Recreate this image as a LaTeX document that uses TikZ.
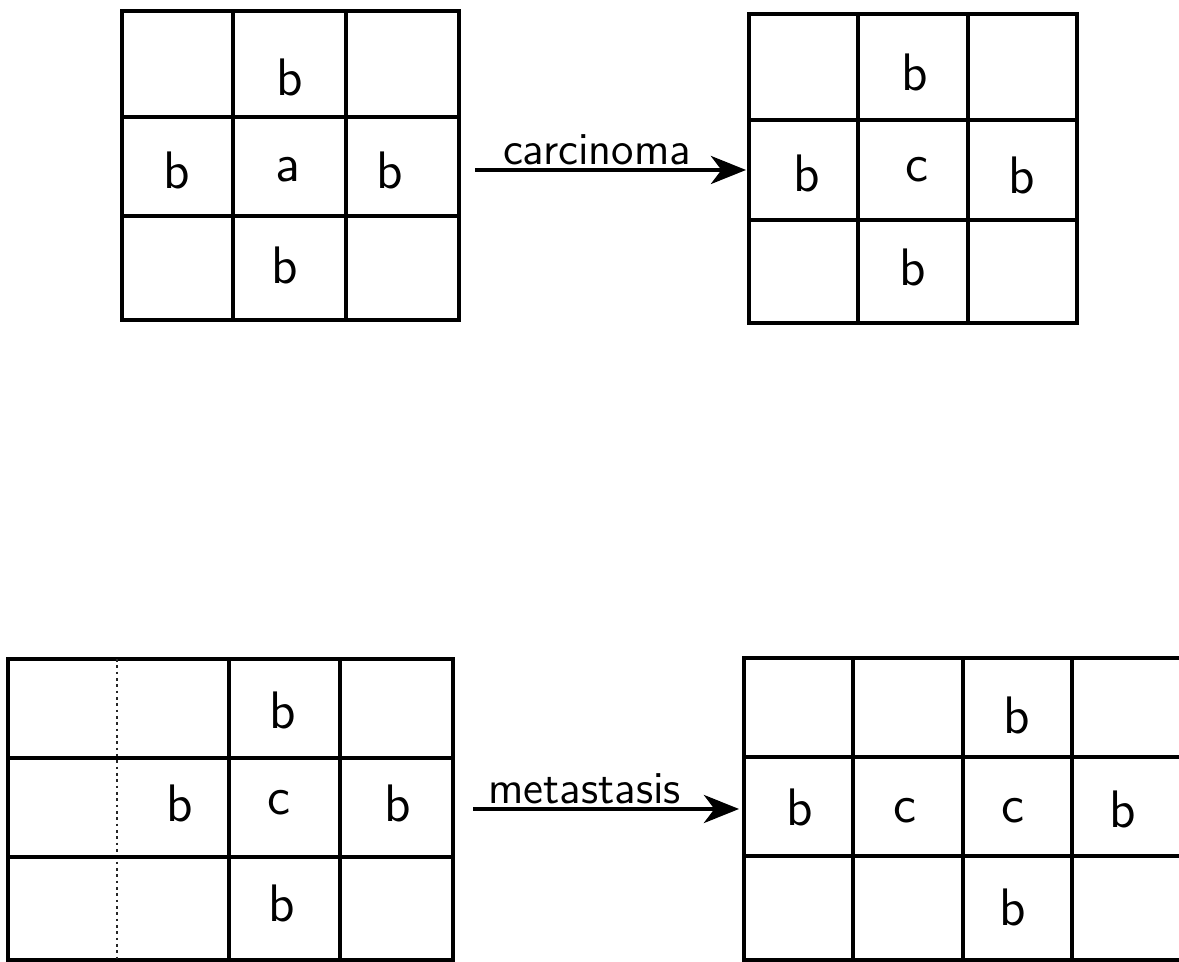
\documentclass[tikz,border=0pt]{standalone}
\usepackage{tikz}
\usetikzlibrary{arrows.meta}
\tikzset{
  grid line/.style={
    line width=0.9pt,
    color=black
  },
  faint line/.style={
    line width=0.8pt,
    densely dotted,
    color=black!85
  },
  cell label/.style={
    font=\sffamily\fontsize{15}{15}\selectfont,
    inner sep=0pt
  },
  flow arrow/.style={
    -{Stealth[length=10pt, width=8pt, inset=3pt]},
    line width=1pt
  },
  flow label/.style={
    font=\sffamily\fontsize{13}{13}\selectfont,
    inner sep=1pt
  }
}

\begin{document}
\begin{tikzpicture}[x=0.01cm, y=-0.01cm]
    \useasboundingbox (0,0) rectangle (1179,962);

    % top left: normal cell a
    \draw[grid line] (122,11) rectangle (459,320);
    \draw[grid line] (233,11) -- (233,320) (346,11) -- (346,320)
                     (122,117) -- (459,117) (122,216) -- (459,216);
    \node[cell label] (tlTop) at (290,77) {b};
    \node[cell label] (tlLeft) at (177,170) {b};
    \node[cell label] (tlMid) at (288,170) {a};
    \node[cell label] (tlRight) at (390,170) {b};
    \node[cell label] (tlBottom) at (285,265) {b};

    % top right: a turned into c
    \draw[grid line] (749,14) rectangle (1077,323);
    \draw[grid line] (858,14) -- (858,323) (968,14) -- (968,323)
                     (749,120) -- (1077,120) (749,220) -- (1077,220);
    \node[cell label] (trTop) at (915,72) {b};
    \node[cell label] (trLeft) at (807,173) {b};
    \node[cell label] (trMid) at (917,170) {c};
    \node[cell label] (trRight) at (1022,175) {b};
    \node[cell label] (trBottom) at (913,267) {b};
    \coordinate (TopRightW) at (746,170);

    % arrow carcinoma
    \coordinate (CarcStart) at (475,170);
    \draw[flow arrow] (CarcStart) -- (TopRightW)
      node[flow label, above, pos=0.45] (carcLabel) {carcinoma};

    % bottom left: c among b
    \draw[grid line] (8,659) rectangle (453,960);
    \draw[faint line] (117,659) -- (117,960);
    \draw[grid line] (229,659) -- (229,960) (340,659) -- (340,960)
                     (8,758) -- (453,758) (8,857) -- (453,857);
    \node[cell label] (blTop) at (283,710) {b};
    \node[cell label] (blLeft) at (180,803) {b};
    \node[cell label] (blMid) at (279,803) {c};
    \node[cell label] (blRight) at (398,803) {b};
    \node[cell label] (blBottom) at (282,903) {b};

    % bottom right: c has spread
    \draw[grid line] (1179,658) -- (744,658) -- (744,960) -- (1179,960);
    \draw[grid line] (853,658) -- (853,960) (963,658) -- (963,960)
                     (1072,658) -- (1072,960)
                     (744,757) -- (1179,757) (744,856) -- (1179,856);
    \node[cell label] (brTop) at (1017,715) {b};
    \node[cell label] (brLeft) at (800,807) {b};
    \node[cell label] (brMidA) at (905,811) {c};
    \node[cell label] (brMidB) at (1013,811) {c};
    \node[cell label] (brRight) at (1123,809) {b};
    \node[cell label] (brBottom) at (1013,907) {b};
    \coordinate (BotRightW) at (739,809);

    % arrow metastasis
    \coordinate (MetaStart) at (473,809);
    \draw[flow arrow] (MetaStart) -- (BotRightW)
      node[flow label, above, pos=0.42] (metaLabel) {metastasis};
\end{tikzpicture}
\end{document}
